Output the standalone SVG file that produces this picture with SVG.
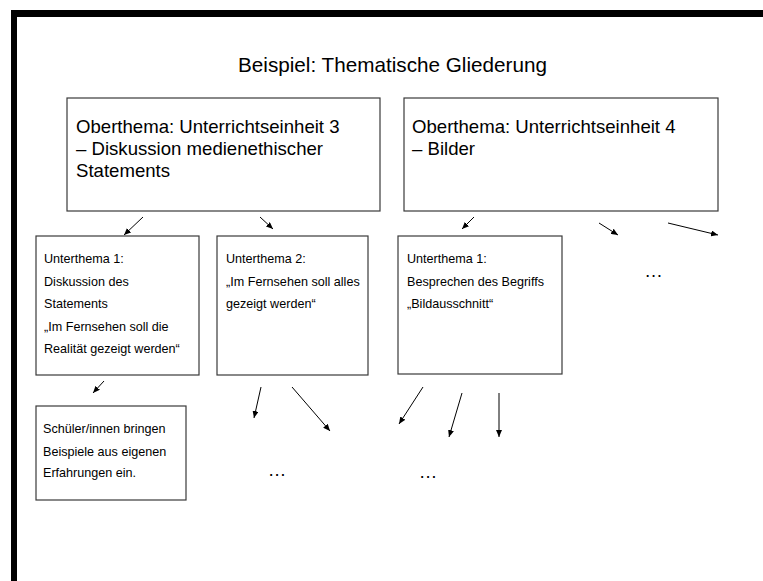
<svg xmlns="http://www.w3.org/2000/svg" width="763" height="581" viewBox="0 0 763 581">
<style>
.t{font-family:"Liberation Sans",Arial,sans-serif;fill:#000}
.big{font-size:18.6px}
.sm{font-size:12.6px}
.title{font-size:20.7px}
.box{fill:#fff;stroke:#3a3a3a;stroke-width:1.2}
.c line{stroke:#000;stroke-width:1;marker-end:url(#ah)}
</style>
<defs>
<marker id="ah" markerUnits="userSpaceOnUse" markerWidth="8" markerHeight="6" refX="7" refY="3" orient="auto">
<path d="M0,0 L7,3 L0,6 Z" fill="#000"/>
</marker>
</defs>
<rect x="0" y="0" width="763" height="581" fill="#fff"/>
<rect x="11" y="10" width="752" height="7" fill="#000"/>
<rect x="11" y="10" width="6" height="571" fill="#000"/>
<text class="t title" x="392.5" y="72" text-anchor="middle">Beispiel: Thematische Gliederung</text>
<g id="ober3">
<rect class="box" x="67" y="98" width="313" height="113"/>
<text class="t big" x="76" y="133">Oberthema: Unterrichtseinheit 3</text>
<text class="t big" x="76" y="155">– Diskussion medienethischer</text>
<text class="t big" x="76" y="177">Statements</text>
</g>
<g id="ober4">
<rect class="box" x="404" y="98" width="314" height="113"/>
<text class="t big" x="412" y="133">Oberthema: Unterrichtseinheit 4</text>
<text class="t big" x="412" y="155">– Bilder</text>
</g>
<g id="unter1a">
<rect class="box" x="36" y="236" width="163" height="139"/>
<text class="t sm" x="44" y="263">Unterthema 1:</text>
<text class="t sm" x="44" y="285.5">Diskussion des</text>
<text class="t sm" x="44" y="308">Statements</text>
<text class="t sm" x="44" y="330.5">„Im Fernsehen soll die</text>
<text class="t sm" x="44" y="353">Realität gezeigt werden“</text>
</g>
<g id="unter2a">
<rect class="box" x="217" y="236" width="151" height="139"/>
<text class="t sm" x="226" y="263">Unterthema 2:</text>
<text class="t sm" x="226" y="285.5">„Im Fernsehen soll alles</text>
<text class="t sm" x="226" y="308">gezeigt werden“</text>
</g>
<g id="unter1b">
<rect class="box" x="398" y="236" width="164" height="138"/>
<text class="t sm" x="407" y="263">Unterthema 1:</text>
<text class="t sm" x="407" y="285.5">Besprechen des Begriffs</text>
<text class="t sm" x="407" y="308">„Bildausschnitt“</text>
</g>
<g id="schueler">
<rect class="box" x="36" y="406" width="150" height="94"/>
<text class="t sm" x="43" y="433">Schüler/innen bringen</text>
<text class="t sm" x="43" y="455.5">Beispiele aus eigenen</text>
<text class="t sm" x="43" y="477">Erfahrungen ein.</text>
</g>
<g id="more1"><text class="t big" x="653.5" y="277" text-anchor="middle">…</text></g>
<g id="more2"><text class="t big" x="277" y="476" text-anchor="middle">…</text></g>
<g id="more3"><text class="t big" x="428" y="478" text-anchor="middle">…</text></g>
<g id="connectors" class="c">
<line x1="143" y1="217" x2="124" y2="235"/>
<line x1="260" y1="217" x2="273" y2="229"/>
<line x1="474" y1="217" x2="462" y2="229"/>
<line x1="599" y1="223" x2="618" y2="235"/>
<line x1="668" y1="223" x2="718" y2="235"/>
<line x1="104" y1="381" x2="93" y2="393"/>
<line x1="261" y1="387" x2="254" y2="418"/>
<line x1="292" y1="387" x2="330" y2="431"/>
<line x1="423" y1="387" x2="399" y2="424"/>
<line x1="462" y1="393" x2="449" y2="437"/>
<line x1="499" y1="393" x2="499" y2="437"/>
</g>
</svg>
